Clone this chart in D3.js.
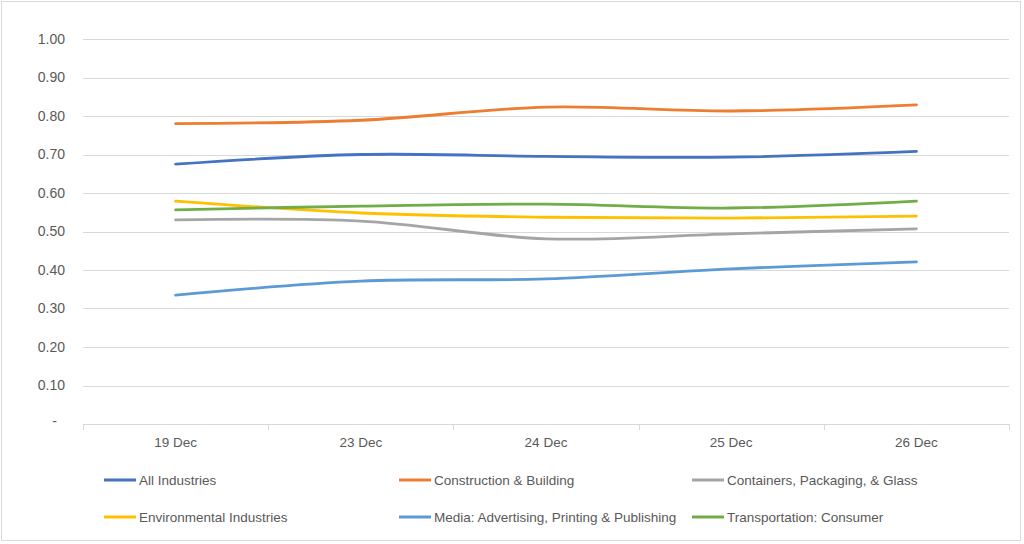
<!DOCTYPE html>
<html><head><meta charset="utf-8">
<script src="https://cdn.jsdelivr.net/npm/d3@7"></script>
<style>
html,body{margin:0;padding:0;background:#fff;}
svg text{font-family:"Liberation Sans",Arial,sans-serif;fill:#595959;}
</style></head>
<body>
<svg id="chart" width="1024" height="544"></svg>
<script>
const categories = ["19 Dec","23 Dec","24 Dec","25 Dec","26 Dec"];
const seriesNames = ["All Industries","Construction & Building","Containers, Packaging, & Glass","Environmental Industries","Media: Advertising, Printing & Publishing","Transportation: Consumer"];
const seriesColors = ["#4472C4","#ED7D31","#A5A5A5","#FFC000","#5B9BD5","#70AD47"];
const allIndustries = [0.675,0.700,0.695,0.693,0.708];
const construction = [0.780,0.789,0.823,0.813,0.829];
const containers = [0.530,0.527,0.481,0.494,0.507];
const environmental = [0.579,0.548,0.537,0.535,0.540];
const media = [0.335,0.371,0.377,0.403,0.421];
const transportation = [0.556,0.566,0.571,0.561,0.579];
const yTicks = [0,0.1,0.2,0.3,0.4,0.5,0.6,0.7,0.8,0.9,1.0];

(function(){
const seriesValues = [allIndustries,construction,containers,environmental,media,transportation];
const svg = d3.select("#chart");

svg.append("rect").attr("x",1.5).attr("y",1.5).attr("width",1019).attr("height",539)
  .attr("fill","#fff").attr("stroke","#d9d9d9").attr("stroke-width",1);

const pl=83, pr=1009, pt=39, pb=424;
const x = d3.scaleBand().domain(categories).range([pl,pr]);
const y = d3.scaleLinear().domain([0,1]).range([pb,pt]);

svg.append("g").selectAll("line").data(yTicks.filter(d=>d>0)).join("line")
  .attr("x1",pl).attr("x2",pr)
  .attr("y1",d=>Math.round(y(d))+0.5).attr("y2",d=>Math.round(y(d))+0.5)
  .attr("stroke","#d9d9d9").attr("stroke-width",1);

const yAxis = d3.axisLeft(y).tickValues(yTicks).tickSize(0).tickPadding(18)
  .tickFormat(d=> d===0 ? "-" : d3.format(".2f")(d));
const gy = svg.append("g").attr("transform",`translate(${pl},0)`).call(yAxis);
gy.select(".domain").remove();
gy.selectAll("text").style("font-size","14px").attr("fill","#595959");
gy.selectAll(".tick").filter(d=>d===0).select("text").attr("dx","-8").attr("dy","0.1em");

const xAxis = d3.axisBottom(x).tickSize(0).tickPadding(13);
const gx = svg.append("g").attr("transform",`translate(0,${pb})`).call(xAxis);
gx.select(".domain").attr("stroke","#d9d9d9").attr("d",`M${pl},0.5H${pr}`);
gx.selectAll("text").style("font-size","13.5px").attr("fill","#595959");
const bounds = categories.map(c=>x(c)).concat([pr]);
svg.append("g").selectAll("line").data(bounds).join("line")
  .attr("x1",d=>Math.round(d)+0.5).attr("x2",d=>Math.round(d)+0.5)
  .attr("y1",pb).attr("y2",pb+6).attr("stroke","#d9d9d9");

const line = d3.line()
  .x((d,i)=>x(categories[i])+x.bandwidth()/2)
  .y(d=>y(d))
  .curve(d3.curveCardinal.tension(0));
svg.append("g").selectAll("path").data(seriesValues).join("path")
  .attr("d",d=>line(d)).attr("fill","none")
  .attr("stroke",(d,i)=>seriesColors[i]).attr("stroke-width",2.8)
  .attr("stroke-linecap","round");

const colX = [104,399,692];
const rowY = [480,517];
const lg = svg.append("g").selectAll("g").data(seriesNames).join("g")
  .attr("transform",(d,i)=>`translate(${colX[i%3]},${rowY[Math.floor(i/3)]})`);
lg.append("line").attr("x1",0).attr("x2",32).attr("y1",0).attr("y2",0)
  .attr("stroke",(d,i)=>seriesColors[i]).attr("stroke-width",3);
lg.append("text").attr("x",35).attr("y",0).attr("dy","0.35em")
  .style("font-size","13.5px").attr("fill","#595959").text(d=>d);
})();
</script>
</body></html>
